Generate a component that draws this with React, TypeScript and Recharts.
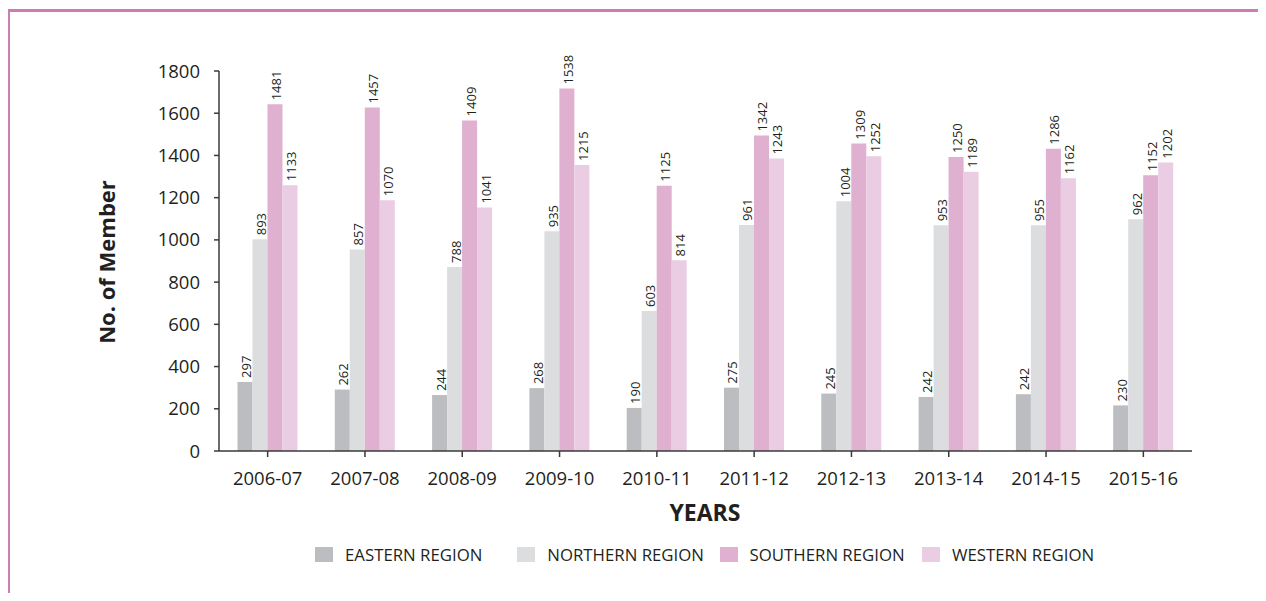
import { BarChart, Bar, XAxis, YAxis, Legend, LabelList } from "recharts";

const FONT = "'Open Sans', sans-serif";
const TEXT_COLOR = "#231f20";
const AXIS_COLOR = "#3a3a3a";

const years = ["2006-07", "2007-08", "2008-09", "2009-10", "2010-11", "2011-12", "2012-13", "2013-14", "2014-15", "2015-16"];

// bar heights as drawn against the axis
const eastern = [327, 291, 265, 298, 204, 300, 272, 256, 269, 216];
const northern = [1003, 955, 872, 1041, 663, 1071, 1183, 1069, 1069, 1098];
const southern = [1642, 1627, 1566, 1717, 1257, 1494, 1456, 1393, 1432, 1306];
const western = [1259, 1188, 1153, 1355, 903, 1385, 1396, 1323, 1292, 1366];

// numbers printed above the bars
const easternLabels = [297, 262, 244, 268, 190, 275, 245, 242, 242, 230];
const northernLabels = [893, 857, 788, 935, 603, 961, 1004, 953, 955, 962];
const southernLabels = [1481, 1457, 1409, 1538, 1125, 1342, 1309, 1250, 1286, 1152];
const westernLabels = [1133, 1070, 1041, 1215, 814, 1243, 1252, 1189, 1162, 1202];

const yTicks = [0, 200, 400, 600, 800, 1000, 1200, 1400, 1600, 1800];

const SERIES = [
  { key: "eastern", label: "eLabel", name: "EASTERN REGION", color: "#bcbdc0" },
  { key: "northern", label: "nLabel", name: "NORTHERN REGION", color: "#dcdddf" },
  { key: "southern", label: "sLabel", name: "SOUTHERN REGION", color: "#dfb0d0" },
  { key: "western", label: "wLabel", name: "WESTERN REGION", color: "#eacde2" },
];

const data = years.map((year, i) => ({
  year,
  eastern: eastern[i],
  northern: northern[i],
  southern: southern[i],
  western: western[i],
  eLabel: easternLabels[i],
  nLabel: northernLabels[i],
  sLabel: southernLabels[i],
  wLabel: westernLabels[i],
}));

const renderBarLabel = (props: any) => {
  const { x, y, width, value } = props;
  const cx = Number(x) + Number(width) / 2 + 1;
  const cy = Number(y) - 4;
  return (
    <text
      x={cx}
      y={cy}
      transform={`rotate(-90 ${cx} ${cy})`}
      textAnchor="start"
      dominantBaseline="central"
      fontSize={13}
      fontFamily={FONT}
      fill={TEXT_COLOR}
    >
      {value}
    </text>
  );
};

const renderLegend = () => (
  <div style={{ display: "flex", alignItems: "center", height: 20, fontFamily: FONT, fontSize: 16.8, color: TEXT_COLOR }}>
    {SERIES.map((s) => (
      <div key={s.key} style={{ display: "flex", alignItems: "center", width: 202.3, whiteSpace: "nowrap" }}>
        <span style={{ display: "inline-block", width: 18, height: 15, background: s.color, marginRight: 12, flexShrink: 0 }} />
        <span>{s.name}</span>
      </div>
    ))}
  </div>
);

export default function App() {
  return (
    <div style={{ position: "relative", width: 1256, height: 585 }}>
      <div
        style={{
          position: "absolute",
          left: -1,
          top: 1,
          width: 1259,
          height: 584,
          boxSizing: "border-box",
          borderTop: "3px solid #d07cb4",
          borderLeft: "3px solid #d07cb4",
        }}
      />
      <BarChart
        width={1256}
        height={585}
        data={data}
        margin={{ top: 63, right: 72, left: 0, bottom: 82 }}
        barCategoryGap="19%"
        barGap={0}
        style={{ position: "absolute", left: 0, top: 0 }}
      >
        <XAxis
          dataKey="year"
          height={60}
          tickSize={6}
          tickMargin={15}
          tick={{ fontSize: 18.5, fill: TEXT_COLOR, fontFamily: FONT }}
          axisLine={{ stroke: AXIS_COLOR, strokeWidth: 1.5 }}
          tickLine={{ stroke: AXIS_COLOR, strokeWidth: 1.5 }}
          interval={0}
          label={{
            content: () => (
              <text x={697} y={504} textAnchor="middle" dominantBaseline="central" fontSize={23} fontWeight="bold" fontFamily={FONT} fill={TEXT_COLOR}>
                YEARS
              </text>
            ),
          }}
        />
        <YAxis
          width={211}
          domain={[0, 1800]}
          ticks={yTicks}
          interval={0}
          tickSize={5}
          tickMargin={14}
          tick={{ fontSize: 18.5, fill: TEXT_COLOR, fontFamily: FONT }}
          axisLine={{ stroke: AXIS_COLOR, strokeWidth: 1.5 }}
          tickLine={{ stroke: AXIS_COLOR, strokeWidth: 1.5 }}
          label={{
            content: () => (
              <text x={98} y={254} transform="rotate(-90 98 254)" textAnchor="middle" dominantBaseline="central" fontSize={22} fontWeight="bold" fontFamily={FONT} fill={TEXT_COLOR}>
                No. of Member
              </text>
            ),
          }}
        />
        <Legend
          layout="horizontal"
          verticalAlign="middle"
          align="center"
          content={renderLegend}
          wrapperStyle={{ top: 536, left: 307, width: 830, height: 20 }}
        />
        {SERIES.map((s) => (
          <Bar key={s.key} dataKey={s.key} name={s.name} fill={s.color} isAnimationActive={false}>
            <LabelList dataKey={s.label} content={renderBarLabel} />
          </Bar>
        ))}
      </BarChart>
    </div>
  );
}
